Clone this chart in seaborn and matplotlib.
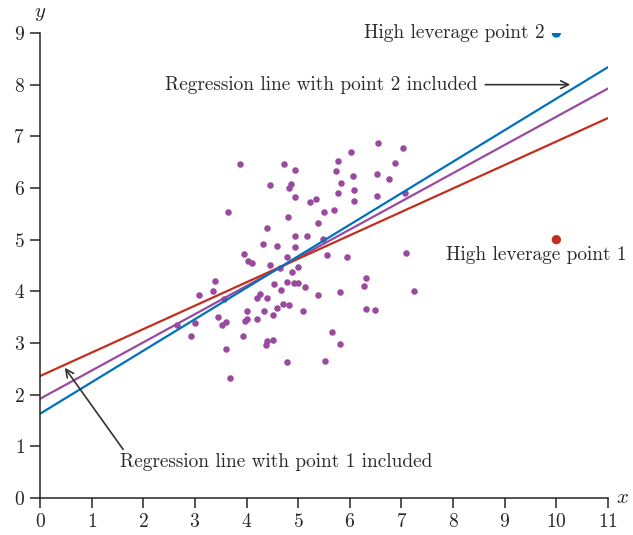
import numpy as np
import pandas as pd
import matplotlib
matplotlib.use("Agg")
import matplotlib.pyplot as plt
import seaborn as sns

# main cloud of points
x_pts = [3.87, 4.72, 4.94, 4.45, 4.86, 4.82, 4.94, 3.64, 4.80, 4.40,
         4.94, 4.32, 4.59, 4.94, 3.95, 4.03, 4.11, 4.78, 4.45, 6.55,
         7.03, 6.02, 5.77, 6.87, 5.73, 6.06, 6.53, 6.76, 5.83, 5.77,
         6.08, 7.07, 5.23, 5.34, 6.08, 6.53, 5.50, 5.69, 5.38, 5.17,
         5.48, 5.56, 5.94, 7.09, 5.00, 4.65, 4.88, 3.39, 4.53, 4.78,
         4.92, 5.00, 3.08, 3.35, 4.26, 4.20, 4.40, 4.67, 3.56, 4.71,
         4.82, 4.01, 4.34, 4.59, 4.51, 3.45, 3.60, 3.52, 3.00, 3.97,
         4.01, 4.20, 2.65, 2.92, 3.93, 4.40, 4.38, 4.51, 3.60, 4.78,
         3.68, 6.31, 6.27, 5.81, 5.38, 7.24, 5.09, 6.31, 6.49, 5.65,
         5.81, 5.52, 5.13]
y_pts = [6.46, 6.46, 6.35, 6.06, 6.08, 6.00, 5.83, 5.54, 5.44, 5.23,
         5.07, 4.92, 4.88, 4.86, 4.72, 4.59, 4.55, 4.66, 4.51, 6.87,
         6.77, 6.70, 6.52, 6.48, 6.33, 6.23, 6.27, 6.17, 6.10, 5.90,
         5.96, 5.90, 5.73, 5.79, 5.75, 5.84, 5.54, 5.57, 5.32, 5.07,
         5.01, 4.70, 4.66, 4.74, 4.47, 4.45, 4.37, 4.20, 4.14, 4.18,
         4.16, 4.16, 3.93, 4.01, 3.95, 3.87, 3.87, 4.03, 3.85, 3.75,
         3.74, 3.62, 3.62, 3.68, 3.54, 3.50, 3.41, 3.35, 3.39, 3.43,
         3.46, 3.46, 3.35, 3.14, 3.14, 3.04, 2.96, 3.06, 2.88, 2.63,
         2.32, 4.26, 4.10, 3.99, 3.93, 4.01, 3.62, 3.66, 3.64, 3.21,
         2.98, 2.65, 4.08]

# high leverage points
lev_x = [10, 10]
lev_y = [5.0, 9.0]

# regression lines: without outliers, with point 1, with point 2
line_names = ["base", "point 1", "point 2"]
intercepts = [1.92, 2.36, 1.63]
slopes = [0.546, 0.454, 0.610]

purple = "#9A4A9E"
red = "#C1301F"
blue = "#0072BD"

sns.set_style("ticks")
plt.rcParams["font.family"] = "serif"
plt.rcParams["font.serif"] = ["cmr10", "DejaVu Serif"]
plt.rcParams["mathtext.fontset"] = "cm"
plt.rcParams["axes.unicode_minus"] = False
plt.rcParams["axes.formatter.use_mathtext"] = True

fig = plt.figure(figsize=(6.33, 5.35), dpi=100)
ax = fig.add_axes([0.0632, 0.0692, 0.8973, 0.8691])

xs = np.array([0, 11])
line_df = pd.concat([
    pd.DataFrame({"x": xs, "y": b + m * xs, "line": n})
    for n, b, m in zip(line_names, intercepts, slopes)
])
sns.lineplot(data=line_df, x="x", y="y", hue="line",
             palette={"base": purple, "point 1": red, "point 2": blue},
             linewidth=1.6, legend=False, ax=ax)

sns.scatterplot(x=x_pts, y=y_pts, color=purple, s=22, linewidth=0, ax=ax)
sns.scatterplot(x=lev_x, y=lev_y, hue=["p1", "p2"],
                palette={"p1": red, "p2": blue}, s=45, linewidth=0,
                legend=False, ax=ax)

ax.set_xlim(0, 11)
ax.set_ylim(0, 9)
ax.set_xticks(range(0, 12))
ax.set_yticks(range(0, 10))
ax.set_xlabel("")
ax.set_ylabel("")
sns.despine(ax=ax)
for sp in ["left", "bottom"]:
    ax.spines[sp].set_linewidth(1.1)
ax.tick_params(direction="out", length=7, width=1.1, labelsize=14, pad=4)
for lab in ax.get_xticklabels() + ax.get_yticklabels():
    lab.set_family("cmr10")

ax.text(11.15, 0, "$x$", fontsize=15, va="center", ha="left", clip_on=False)
ax.text(0, 9.2, "$y$", fontsize=15, va="bottom", ha="center", clip_on=False)

tcol = "#2a2a2a"
fs = 13.9
ax.text(9.78, 9.0, "High leverage point 2", fontsize=fs, ha="right",
        va="center", color=tcol)
ax.text(7.86, 4.70, "High leverage point 1", fontsize=fs, ha="left",
        va="center", color=tcol, clip_on=False)

ax.annotate("Regression line with point 2 included", xy=(10.27, 8.0),
            xytext=(8.48, 8.0), ha="right", va="center", fontsize=fs,
            color=tcol,
            arrowprops=dict(arrowstyle="->", color="#333333", lw=1.2,
                            mutation_scale=14, shrinkA=3, shrinkB=0))

ax.text(1.55, 0.70, "Regression line with point 1 included", fontsize=fs,
        ha="left", va="center", color=tcol)
ax.annotate("", xy=(0.48, 2.52), xytext=(1.61, 0.94),
            arrowprops=dict(arrowstyle="->", color="#333333", lw=1.2,
                            mutation_scale=14, shrinkA=0, shrinkB=0))

fig.savefig("out.png", dpi=100)
